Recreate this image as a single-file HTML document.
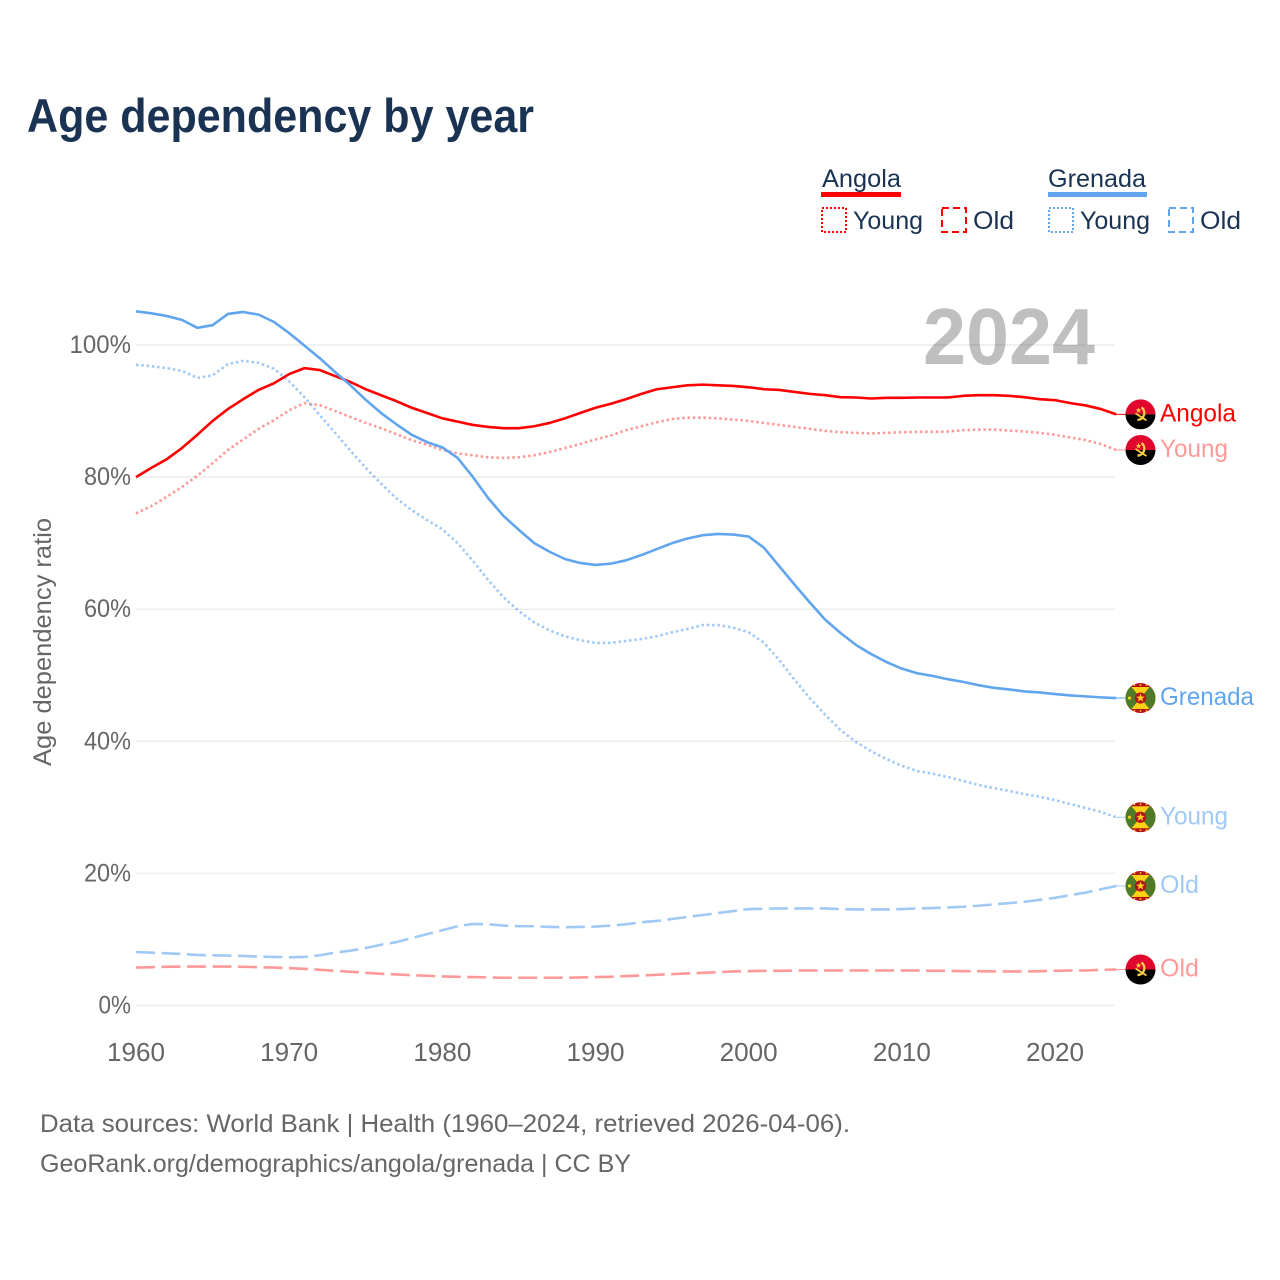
<!DOCTYPE html>
<html lang="en">
<head>
<meta charset="utf-8">
<title>Age dependency by year</title>
<style>
html,body{margin:0;padding:0;background:#fff;}
svg{display:block;}
text{font-family:"Liberation Sans",sans-serif;}
</style>
</head>
<body>
<svg id="chart" xmlns="http://www.w3.org/2000/svg" width="1280" height="1280" viewBox="0 0 1280 1280">
  <rect x="0" y="0" width="1280" height="1280" fill="#ffffff"/>
  <defs><clipPath id="flag-clip"><circle cx="0" cy="0" r="15"/></clipPath></defs>
  <text x="27" y="132" font-size="47" font-weight="700" fill="#1a3353" textLength="507" lengthAdjust="spacingAndGlyphs">Age dependency by year</text>

  <g font-size="25" fill="#1a3353">
    <text x="822" y="187" textLength="79" lengthAdjust="spacingAndGlyphs">Angola</text>
    <rect x="821" y="192" width="80" height="5" fill="#ff0000"/>
    <rect x="822" y="208" width="24" height="24" fill="none" stroke="#ff0000" stroke-width="2" stroke-dasharray="2 2"/>
    <text x="853" y="229" textLength="70" lengthAdjust="spacingAndGlyphs">Young</text>
    <rect x="942" y="208" width="24" height="24" fill="none" stroke="#ff0000" stroke-width="2" stroke-dasharray="7 4"/>
    <text x="973" y="229" textLength="41" lengthAdjust="spacingAndGlyphs">Old</text>
    <text x="1048" y="187" textLength="98" lengthAdjust="spacingAndGlyphs">Grenada</text>
    <rect x="1048" y="192" width="99" height="5" fill="#60a5ee"/>
    <rect x="1049" y="208" width="24" height="24" fill="none" stroke="#60a5ee" stroke-width="2" stroke-dasharray="2 2"/>
    <text x="1080" y="229" textLength="70" lengthAdjust="spacingAndGlyphs">Young</text>
    <rect x="1169" y="208" width="24" height="24" fill="none" stroke="#60a5ee" stroke-width="2" stroke-dasharray="7 4"/>
    <text x="1200" y="229" textLength="41" lengthAdjust="spacingAndGlyphs">Old</text>
  </g>

  <g id="grid"></g>
  <g id="y-axis"></g>
  <g id="x-axis"></g>
  <text transform="translate(51,642) rotate(-90)" text-anchor="middle" font-size="25" fill="#666666" textLength="248" lengthAdjust="spacingAndGlyphs">Age dependency ratio</text>
  <text x="923" y="364" font-size="80" font-weight="700" fill="#000000" fill-opacity="0.25" textLength="172" lengthAdjust="spacingAndGlyphs">2024</text>
  <g id="series"></g>
  <g id="end-labels"></g>

  <text x="40" y="1132" font-size="25" fill="#666666" textLength="810" lengthAdjust="spacingAndGlyphs">Data sources: World Bank | Health (1960–2024, retrieved 2026-04-06).</text>
  <text x="40" y="1172" font-size="25" fill="#666666" textLength="591" lengthAdjust="spacingAndGlyphs">GeoRank.org/demographics/angola/grenada | CC BY</text>
</svg>
<script>
const firstYear = 1960;
const xTickYears = [1960, 1970, 1980, 1990, 2000, 2010, 2020];
const yTickValues = [0, 20, 40, 60, 80, 100];

const angolaOld = [
  5.75,5.8,5.85,5.9,5.9,5.9,5.9,5.85,5.8,5.75,
  5.65,5.55,5.4,5.25,5.1,4.95,4.8,4.7,4.6,4.5,
  4.4,4.35,4.3,4.25,4.2,4.2,4.2,4.2,4.2,4.25,
  4.3,4.35,4.45,4.55,4.65,4.75,4.85,4.95,5.05,5.15,
  5.2,5.25,5.25,5.3,5.3,5.3,5.3,5.3,5.3,5.3,
  5.3,5.3,5.25,5.25,5.2,5.2,5.15,5.15,5.15,5.2,
  5.25,5.3,5.3,5.4,5.45];
const grenadaOld = [
  8.1,8,7.9,7.8,7.65,7.6,7.55,7.5,7.4,7.35,
  7.3,7.35,7.6,8,8.3,8.7,9.2,9.6,10.2,10.8,
  11.4,12,12.35,12.3,12.1,12,12,11.9,11.85,11.9,
  11.95,12.1,12.3,12.6,12.8,13.1,13.4,13.7,14,14.3,
  14.6,14.65,14.7,14.7,14.7,14.7,14.6,14.55,14.55,14.55,
  14.6,14.7,14.75,14.85,14.95,15.1,15.3,15.5,15.7,16,
  16.3,16.7,17.1,17.6,18.1];
const angolaYoung = [
  74.5,75.6,77,78.5,80.2,82.1,84.1,85.7,87.3,88.6,
  90.1,91.2,90.9,90,89.1,88.2,87.4,86.5,85.6,84.9,
  84.1,83.6,83.3,83,82.9,83,83.3,83.8,84.4,85,
  85.7,86.3,87.1,87.7,88.3,88.8,89,89,88.9,88.7,
  88.5,88.2,87.9,87.6,87.3,87,86.8,86.7,86.6,86.7,
  86.8,86.85,86.85,86.9,87.1,87.2,87.2,87.05,86.9,86.7,
  86.4,86,85.6,85,84.1];
const grenadaYoung = [
  97,96.8,96.5,96.1,95,95.4,97.1,97.6,97.3,96.4,
  94.5,92.1,89.4,86.7,84,81.4,79,76.8,75,73.5,
  72.1,70,67.3,64.4,61.8,59.7,58,56.8,55.9,55.3,
  54.9,54.9,55.2,55.5,55.9,56.5,57,57.6,57.6,57.2,
  56.5,54.9,52.3,49.3,46.5,44,41.7,39.9,38.5,37.3,
  36.3,35.5,35.1,34.6,34,33.4,32.9,32.5,32,31.6,
  31.1,30.5,29.9,29.3,28.5];
const angolaTotal = [
  80,81.4,82.7,84.4,86.4,88.5,90.3,91.8,93.2,94.2,
  95.6,96.5,96.2,95.3,94.4,93.3,92.4,91.5,90.5,89.7,
  88.9,88.4,87.9,87.6,87.4,87.4,87.7,88.2,88.9,89.7,
  90.5,91.1,91.8,92.6,93.3,93.6,93.9,94,93.9,93.8,
  93.6,93.3,93.2,92.9,92.6,92.4,92.1,92.05,91.9,92,
  92,92.05,92.05,92.05,92.3,92.4,92.4,92.3,92.1,91.8,
  91.65,91.2,90.85,90.3,89.5];
const grenadaTotal = [
  105.1,104.8,104.4,103.8,102.6,103,104.7,105,104.6,103.5,
  101.8,99.9,98,95.9,93.9,91.7,89.7,88,86.4,85.3,
  84.5,82.9,80,76.8,74.1,72,70,68.7,67.6,67,
  66.7,66.9,67.4,68.2,69.1,70,70.7,71.2,71.4,71.3,
  71,69.3,66.5,63.7,61,58.4,56.4,54.6,53.2,52,
  51,50.3,49.9,49.4,49,48.5,48.1,47.85,47.55,47.4,
  47.15,46.95,46.8,46.65,46.55];

const NS = 'http://www.w3.org/2000/svg';
const RED = '#ff0000', BLUE = '#60a5ee';
const xScale = year => 136 + (year - firstYear) * 15.317;
const yScale = value => 1005.5 - value * 6.605;

function make(tag, attrs, parent) {
  const el = document.createElementNS(NS, tag);
  for (const k in attrs) el.setAttribute(k, attrs[k]);
  parent.appendChild(el);
  return el;
}

const gridGroup = document.getElementById('grid');
const yAxisGroup = document.getElementById('y-axis');
const xAxisGroup = document.getElementById('x-axis');
const seriesGroup = document.getElementById('series');
const labelGroup = document.getElementById('end-labels');

yTickValues.forEach(v => {
  const line = make('line', {x1: 136, x2: 1115, y1: yScale(v), y2: yScale(v), stroke: '#ececec', 'stroke-width': 1.5}, gridGroup);
  
  
  const s = v + '%';
  const t = make('text', {x: 131, y: yScale(v) + 8, 'text-anchor': 'end', 'font-size': 25, fill: '#666666', textLength: (s.length - 1) * 14.5 + 18, lengthAdjust: 'spacingAndGlyphs'}, yAxisGroup);
  
  
  t.textContent = s;
});

xTickYears.forEach(y => {
  const t = make('text', {x: xScale(y), y: 1061, 'text-anchor': 'middle', 'font-size': 26, fill: '#666666', textLength: 58, lengthAdjust: 'spacingAndGlyphs'}, xAxisGroup);
  
  
  t.textContent = String(y);
});

function drawLine(values, color, opacity, dash, name) {
  const pts = values.map((v, i) => xScale(firstYear + i).toFixed(2) + ',' + yScale(v).toFixed(2)).join(' ');
  const attrs = {points: pts, fill: 'none', stroke: color, 'stroke-opacity': opacity, 'stroke-width': 2.6, 'stroke-linejoin': 'round'};
  if (dash) attrs['stroke-dasharray'] = dash;
  const line = make('polyline', attrs, seriesGroup);
  
  
  const lastX = xScale(firstYear + values.length - 1);
  const lastY = yScale(values[values.length - 1]);
  const stub = make('line', {x1: lastX, x2: 1127, y1: lastY, y2: lastY, stroke: color, 'stroke-opacity': opacity, 'stroke-width': 1}, seriesGroup);
  
  
}

drawLine(angolaOld, RED, 0.4, '19 6.5', 'line-angola-old');
drawLine(grenadaOld, BLUE, 0.6, '19 6.5', 'line-grenada-old');
drawLine(angolaYoung, RED, 0.4, '2.5 2.8', 'line-angola-young');
drawLine(grenadaYoung, BLUE, 0.6, '2.5 2.8', 'line-grenada-young');
drawLine(angolaTotal, RED, 1, null, 'line-angola-total');
drawLine(grenadaTotal, BLUE, 1, null, 'line-grenada-total');

const STAR = '0,-5 1.3,-1.6 4.8,-1.5 2,0.6 3,4 0,2 -3,4 -2,0.6 -4.8,-1.5 -1.3,-1.6';

function angolaFlag(g) {
  make('rect', {x: -15, y: -15, width: 30, height: 15, fill: '#e0062d'}, g);
  make('rect', {x: -15, y: 0, width: 30, height: 15, fill: '#000000'}, g);
  make('path', {d: 'M1 -7 A7 7 0 0 1 -3 5.6', fill: 'none', stroke: '#f9d043', 'stroke-width': 2.4}, g);
  make('path', {d: 'M-5 -1 L6 6', fill: 'none', stroke: '#f9d043', 'stroke-width': 1.8}, g);
  make('polygon', {points: STAR, fill: '#f9d043', transform: 'translate(-2,-4) scale(0.6)'}, g);
}

function grenadaFlag(g) {
  make('rect', {x: -15, y: -15, width: 30, height: 30, fill: '#b4111d'}, g);
  make('rect', {x: -15, y: -11, width: 30, height: 22, fill: '#fcd116'}, g);
  make('polygon', {points: '-9,-11 0,0 -9,11 -15,11 -15,-11', fill: '#4f7a28'}, g);
  make('polygon', {points: '9,-11 0,0 9,11 15,11 15,-11', fill: '#4f7a28'}, g);
  make('circle', {cx: 0, cy: 0, r: 5.6, fill: '#b4111d'}, g);
  make('polygon', {points: STAR, fill: '#fcd116', transform: 'scale(0.9)'}, g);
  make('circle', {cx: -11, cy: 0, r: 1.6, fill: '#fcd116'}, g);
  [-6, 0, 6].forEach(dx => {
    make('circle', {cx: dx, cy: -13, r: 0.9, fill: '#fcd116'}, g);
    make('circle', {cx: dx, cy: 13, r: 0.9, fill: '#fcd116'}, g);
  });
}

function endLabel(values, text, color, opacity, width, drawFlag, name) {
  const y = yScale(values[values.length - 1]);
  const g = make('g', {transform: 'translate(1140.5,' + y.toFixed(2) + ')', 'clip-path': 'url(#flag-clip)'}, labelGroup);
  
  
  drawFlag(g);
  const t = make('text', {x: 1160, y: y + 7, 'font-size': 25, fill: color, 'fill-opacity': opacity, textLength: width, lengthAdjust: 'spacingAndGlyphs'}, labelGroup);
  
  
  t.textContent = text;
}

endLabel(angolaTotal, 'Angola', RED, 1, 76, angolaFlag, 'angola-total');
endLabel(angolaYoung, 'Young', RED, 0.4, 68, angolaFlag, 'angola-young');
endLabel(angolaOld, 'Old', RED, 0.4, 39, angolaFlag, 'angola-old');
endLabel(grenadaTotal, 'Grenada', BLUE, 1, 94, grenadaFlag, 'grenada-total');
endLabel(grenadaYoung, 'Young', BLUE, 0.6, 68, grenadaFlag, 'grenada-young');
endLabel(grenadaOld, 'Old', BLUE, 0.6, 39, grenadaFlag, 'grenada-old');
</script>
</body>
</html>
